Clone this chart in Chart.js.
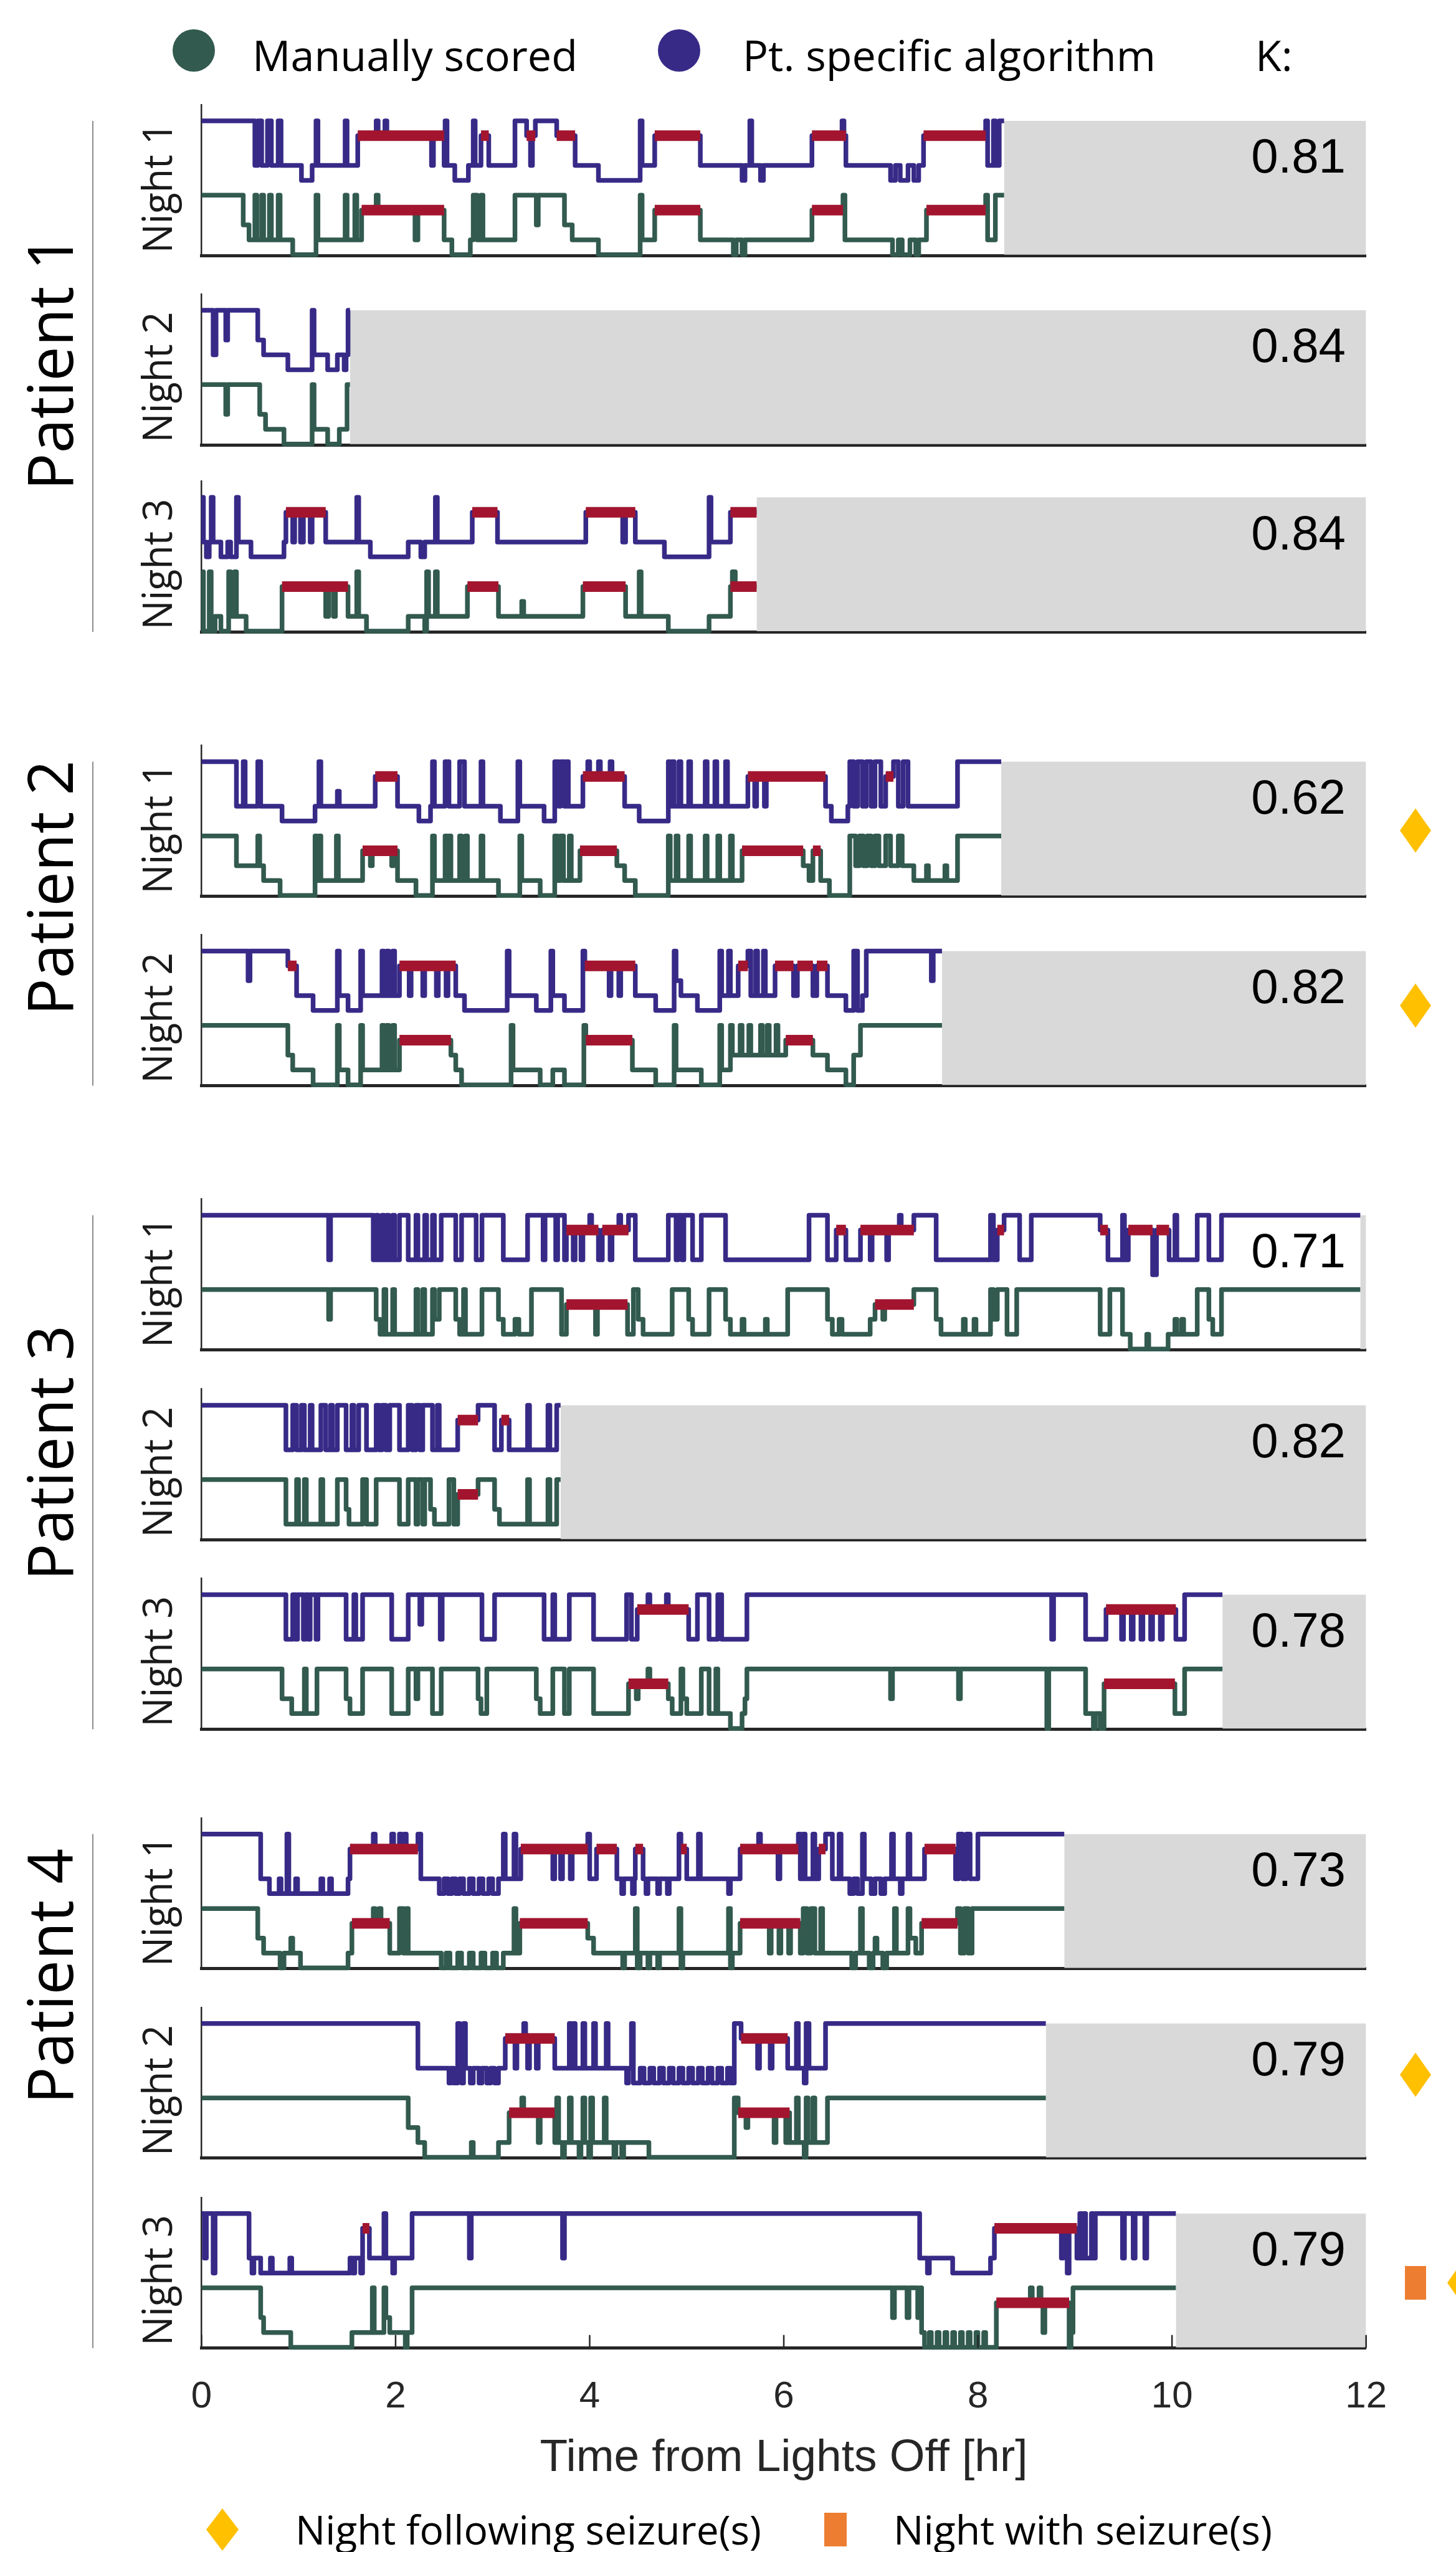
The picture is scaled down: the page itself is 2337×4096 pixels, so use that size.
<!DOCTYPE html>
<html><head><meta charset="utf-8">
<script src="https://cdn.jsdelivr.net/npm/chart.js@4.4.1/dist/chart.umd.min.js"></script>
<style>
html,body{margin:0;padding:0;background:#fff;}
body{width:2337px;height:4096px;position:relative;overflow:hidden;}
canvas{position:absolute;}
#ov{position:absolute;left:0;top:0;z-index:10;pointer-events:none;}
</style></head><body>
<svg id="ov" width="2337" height="4096" xmlns="http://www.w3.org/2000/svg"></svg>
<script>
// ===== DATA =====  stage codes: 4=Wake, 3=REM, 2=N1, 1=N2, 0=N3 ; each pair = [hour the stage starts, stage]
const p1n1Alg = [[0,4],[0.55,1],[0.58,4],[0.62,1],[0.68,4],[0.72,1],[0.79,4],[0.82,1],[1.03,0],[1.14,1],[1.18,4],[1.20,1],[1.48,4],[1.50,1],[1.61,3],[1.80,4],[1.82,3],[1.89,4],[1.91,3],[2.37,1],[2.39,3],[2.50,1],[2.51,4],[2.53,1],[2.61,0],[2.75,1],[2.80,4],[2.82,1],[2.88,3],[2.96,1],[3.23,4],[3.35,3],[3.39,1],[3.41,3],[3.44,4],[3.66,3],[3.85,1],[4.09,0],[4.52,4],[4.54,1],[4.67,3],[5.14,1],[5.57,0],[5.60,1],[5.65,4],[5.67,1],[5.76,0],[5.79,1],[6.29,3],[6.60,4],[6.62,3],[6.64,1],[7.10,0],[7.15,1],[7.20,0],[7.28,1],[7.34,0],[7.39,1],[7.44,3],[8.08,4],[8.10,1],[8.16,4],[8.18,1],[8.22,4],[8.27,4]];
const p1n1Man = [[0,4],[0.43,2],[0.49,1],[0.55,4],[0.57,1],[0.62,4],[0.64,1],[0.70,4],[0.72,1],[0.79,4],[0.81,1],[0.94,0],[1.18,4],[1.20,1],[1.48,4],[1.50,1],[1.58,4],[1.60,1],[1.65,3],[1.80,4],[1.82,3],[2.20,1],[2.23,3],[2.50,1],[2.58,0],[2.77,1],[2.80,4],[2.84,1],[2.88,4],[2.90,1],[3.23,4],[3.45,2],[3.47,4],[3.74,2],[3.82,1],[4.09,0],[4.52,4],[4.54,1],[4.67,3],[5.14,1],[5.48,0],[5.51,1],[5.57,0],[5.60,1],[6.29,3],[6.61,4],[6.63,1],[7.12,0],[7.18,1],[7.22,0],[7.30,1],[7.36,0],[7.39,1],[7.47,3],[8.08,4],[8.10,1],[8.18,4],[8.27,4]];
const p1n2Alg = [[0,4],[0.12,1],[0.15,4],[0.25,2],[0.27,4],[0.58,2],[0.64,1],[0.89,0],[1.14,4],[1.16,1],[1.30,0],[1.40,1],[1.47,0],[1.49,1],[1.51,4],[1.53,4]];
const p1n2Man = [[0,4],[0.25,2],[0.27,4],[0.60,2],[0.66,1],[0.85,0],[1.14,4],[1.16,1],[1.30,0],[1.42,1],[1.50,4],[1.53,4]];
const p1n3Alg = [[0,4],[0.02,1],[0.05,0],[0.08,1],[0.10,4],[0.12,1],[0.20,0],[0.27,1],[0.30,0],[0.36,4],[0.38,1],[0.51,0],[0.85,1],[0.87,3],[0.94,1],[0.96,3],[1.02,1],[1.05,3],[1.12,1],[1.14,3],[1.28,1],[1.60,4],[1.62,1],[1.74,0],[2.13,1],[2.26,0],[2.30,1],[2.41,4],[2.43,1],[2.79,3],[3.05,1],[3.96,3],[4.34,1],[4.37,3],[4.47,1],[4.77,0],[5.23,4],[5.25,1],[5.45,3],[5.72,3]];
const p1n3Man = [[0,4],[0.02,0],[0.08,4],[0.10,0],[0.14,1],[0.20,0],[0.28,4],[0.30,1],[0.34,4],[0.36,1],[0.46,0],[0.83,3],[1.28,1],[1.31,3],[1.36,1],[1.38,3],[1.51,1],[1.60,4],[1.62,1],[1.70,0],[2.13,1],[2.30,0],[2.32,4],[2.34,1],[2.41,4],[2.43,1],[2.74,3],[3.06,1],[3.30,2],[3.32,1],[3.93,3],[4.37,1],[4.51,4],[4.53,1],[4.81,0],[5.23,1],[5.45,3],[5.47,4],[5.50,3],[5.72,3]];
const p2n1Alg = [[0,4],[0.36,1],[0.43,4],[0.45,1],[0.58,4],[0.61,1],[0.83,0],[1.17,1],[1.21,4],[1.23,1],[1.40,2],[1.42,1],[1.79,3],[2.02,1],[2.24,0],[2.36,1],[2.38,4],[2.40,1],[2.51,4],[2.55,1],[2.66,4],[2.71,1],[2.88,4],[2.90,1],[3.08,0],[3.26,4],[3.28,1],[3.53,0],[3.64,4],[3.68,1],[3.70,4],[3.74,1],[3.76,4],[3.78,1],[3.93,3],[3.98,4],[4.00,3],[4.09,4],[4.11,3],[4.21,4],[4.23,3],[4.36,1],[4.51,0],[4.81,4],[4.83,1],[4.85,4],[4.87,1],[4.92,4],[4.94,1],[5.02,4],[5.04,1],[5.19,4],[5.21,1],[5.29,4],[5.31,1],[5.40,4],[5.42,1],[5.63,3],[5.70,1],[5.72,3],[5.80,1],[5.82,3],[6.43,1],[6.49,0],[6.66,1],[6.68,4],[6.72,1],[6.76,4],[6.81,1],[6.85,4],[6.90,1],[6.94,4],[7.00,1],[7.05,3],[7.13,4],[7.18,1],[7.23,4],[7.28,1],[7.79,4],[8.24,4]];
const p2n1Man = [[0,4],[0.36,2],[0.58,4],[0.60,2],[0.64,1],[0.81,0],[1.17,4],[1.19,1],[1.21,4],[1.23,1],[1.39,4],[1.41,1],[1.66,3],[1.74,2],[1.76,3],[1.96,2],[1.98,3],[2.02,1],[2.21,0],[2.38,4],[2.40,1],[2.51,4],[2.53,1],[2.55,4],[2.57,1],[2.66,4],[2.68,1],[2.72,4],[2.74,1],[2.88,4],[2.90,1],[3.06,0],[3.28,4],[3.30,1],[3.49,0],[3.64,4],[3.67,1],[3.70,4],[3.73,1],[3.79,4],[3.81,1],[3.90,3],[4.28,2],[4.36,1],[4.47,0],[4.81,4],[4.83,1],[4.89,4],[4.91,1],[5.02,4],[5.04,1],[5.19,4],[5.21,1],[5.32,4],[5.34,1],[5.45,4],[5.47,1],[5.57,3],[6.20,2],[6.26,1],[6.30,3],[6.38,1],[6.47,0],[6.68,4],[6.74,2],[6.78,4],[6.82,2],[6.86,4],[6.90,2],[6.94,4],[6.98,2],[7.05,4],[7.10,2],[7.18,4],[7.22,2],[7.34,1],[7.47,2],[7.49,1],[7.66,2],[7.68,1],[7.79,4],[8.24,4]];
const p2n2Alg = [[0,4],[0.48,2],[0.50,4],[0.89,3],[0.98,1],[1.15,0],[1.40,4],[1.42,1],[1.51,0],[1.64,4],[1.66,1],[1.86,4],[1.88,1],[1.91,4],[1.93,1],[1.97,4],[1.99,1],[2.04,3],[2.14,1],[2.16,3],[2.28,1],[2.30,3],[2.42,1],[2.44,3],[2.52,1],[2.54,3],[2.62,1],[2.71,0],[3.15,4],[3.17,1],[3.45,0],[3.60,4],[3.62,1],[3.74,0],[3.93,4],[3.95,3],[4.20,1],[4.22,3],[4.30,1],[4.32,3],[4.47,1],[4.68,0],[4.87,4],[4.89,2],[4.94,1],[5.11,0],[5.34,4],[5.36,1],[5.43,4],[5.45,1],[5.53,3],[5.63,4],[5.66,1],[5.71,4],[5.73,1],[5.79,4],[5.81,1],[5.91,3],[6.10,1],[6.14,3],[6.30,1],[6.34,3],[6.45,1],[6.64,0],[6.72,4],[6.76,0],[6.81,1],[6.85,4],[7.52,2],[7.54,4],[7.63,4]];
const p2n2Man = [[0,4],[0.89,2],[0.94,1],[1.15,0],[1.40,4],[1.42,1],[1.51,0],[1.64,4],[1.66,1],[1.86,4],[1.88,1],[1.91,4],[1.93,1],[1.97,4],[1.99,1],[2.04,3],[2.57,2],[2.62,1],[2.68,0],[3.19,4],[3.21,1],[3.49,0],[3.62,1],[3.74,0],[3.94,4],[3.96,3],[4.44,1],[4.68,0],[4.87,4],[4.89,1],[5.15,0],[5.34,4],[5.36,1],[5.45,4],[5.47,2],[5.55,4],[5.57,2],[5.64,4],[5.66,2],[5.76,4],[5.78,2],[5.83,4],[5.85,2],[5.92,4],[5.94,2],[6.02,3],[6.30,2],[6.45,1],[6.64,0],[6.72,2],[6.79,4],[7.63,4]];
const p3n1Alg = [[0,4],[1.31,1],[1.33,4],[1.77,1],[1.80,4],[1.82,1],[1.86,4],[1.88,1],[1.91,4],[1.93,1],[1.97,4],[1.99,1],[2.04,4],[2.13,1],[2.21,4],[2.23,1],[2.30,4],[2.32,1],[2.38,4],[2.40,1],[2.47,4],[2.62,1],[2.68,4],[2.83,1],[2.89,4],[3.11,1],[3.36,4],[3.52,1],[3.54,4],[3.65,1],[3.67,4],[3.74,1],[3.76,3],[3.83,1],[3.85,3],[3.91,1],[3.93,3],[4.00,4],[4.02,3],[4.09,1],[4.13,3],[4.21,1],[4.23,3],[4.30,4],[4.32,3],[4.40,4],[4.47,1],[4.81,4],[4.89,1],[4.91,4],[4.95,1],[4.97,4],[5.06,1],[5.15,4],[5.40,1],[6.26,4],[6.45,1],[6.54,3],[6.64,1],[6.79,3],[6.89,1],[6.91,3],[7.06,1],[7.08,3],[7.19,4],[7.21,3],[7.34,4],[7.57,1],[8.13,4],[8.16,1],[8.20,3],[8.27,4],[8.43,1],[8.55,4],[9.26,3],[9.34,1],[9.49,4],[9.51,1],[9.55,3],[9.80,0],[9.84,3],[9.97,1],[10.03,4],[10.05,1],[10.26,4],[10.38,1],[10.51,4],[11.94,4]];
const p3n1Man = [[0,4],[1.31,2],[1.33,4],[1.80,2],[1.84,1],[1.88,4],[1.90,1],[1.97,4],[1.99,1],[2.21,4],[2.23,1],[2.28,4],[2.30,1],[2.38,4],[2.40,2],[2.45,4],[2.62,2],[2.66,1],[2.70,4],[2.72,1],[2.89,4],[3.06,2],[3.11,1],[3.23,2],[3.27,1],[3.40,4],[3.71,1],[3.76,3],[4.06,1],[4.08,3],[4.39,1],[4.45,4],[4.50,2],[4.55,1],[4.85,4],[5.02,2],[5.06,1],[5.23,4],[5.40,2],[5.45,1],[5.57,2],[5.59,1],[5.81,2],[5.83,1],[6.04,4],[6.45,2],[6.50,1],[6.57,2],[6.60,1],[6.89,2],[6.94,3],[7.02,2],[7.04,3],[7.34,4],[7.57,2],[7.62,1],[7.85,2],[7.87,1],[7.96,2],[7.98,1],[8.13,4],[8.16,2],[8.20,4],[8.30,1],[8.40,4],[9.26,1],[9.36,4],[9.49,1],[9.57,0],[9.74,1],[9.76,0],[9.96,1],[10.03,2],[10.05,1],[10.10,2],[10.12,1],[10.26,4],[10.38,2],[10.42,1],[10.51,4],[11.94,4]];
const p3n2Alg = [[0,4],[0.87,1],[0.94,4],[0.98,1],[1.03,4],[1.06,1],[1.12,4],[1.14,1],[1.23,4],[1.28,1],[1.33,4],[1.35,1],[1.40,4],[1.49,1],[1.55,4],[1.57,1],[1.62,4],[1.70,1],[1.80,4],[1.83,1],[1.86,4],[1.90,1],[1.94,4],[2.04,1],[2.13,4],[2.17,1],[2.21,4],[2.25,1],[2.28,4],[2.38,1],[2.43,4],[2.45,1],[2.64,3],[2.85,4],[3.02,1],[3.09,3],[3.17,1],[3.36,4],[3.38,1],[3.57,4],[3.59,1],[3.66,4],[3.70,4]];
const p3n2Man = [[0,4],[0.87,1],[0.98,4],[1.00,1],[1.06,4],[1.08,1],[1.23,4],[1.25,1],[1.40,4],[1.49,2],[1.52,1],[1.66,4],[1.70,1],[1.80,4],[2.04,1],[2.13,4],[2.21,1],[2.23,4],[2.28,1],[2.30,4],[2.36,2],[2.40,1],[2.55,4],[2.60,1],[2.64,3],[2.85,4],[3.02,2],[3.07,1],[3.36,4],[3.38,1],[3.57,4],[3.59,1],[3.66,4],[3.70,4]];
const p3n3Alg = [[0,4],[0.87,1],[0.94,4],[0.97,1],[0.99,4],[1.05,1],[1.07,4],[1.10,1],[1.12,4],[1.18,1],[1.20,4],[1.49,1],[1.57,4],[1.59,1],[1.66,4],[1.96,1],[2.13,4],[2.25,2],[2.27,4],[2.46,1],[2.48,4],[2.89,1],[3.02,4],[3.53,1],[3.62,4],[3.64,1],[3.79,4],[4.04,1],[4.38,4],[4.43,1],[4.49,3],[4.60,4],[4.62,3],[4.79,4],[4.81,3],[5.02,1],[5.11,4],[5.23,1],[5.32,4],[5.36,1],[5.62,4],[8.76,1],[8.78,4],[9.11,1],[9.32,3],[9.48,1],[9.50,3],[9.58,1],[9.60,3],[9.68,1],[9.70,3],[9.78,1],[9.80,3],[9.88,1],[9.90,3],[10.04,1],[10.13,4],[10.52,4]];
const p3n3Man = [[0,4],[0.83,2],[0.93,1],[1.06,4],[1.08,1],[1.19,4],[1.49,2],[1.53,1],[1.66,4],[1.96,1],[2.13,4],[2.21,2],[2.23,4],[2.38,1],[2.47,4],[2.85,2],[2.88,1],[2.94,4],[3.45,2],[3.49,1],[3.62,4],[3.74,1],[3.79,4],[4.04,1],[4.40,3],[4.48,2],[4.50,3],[4.60,4],[4.62,3],[4.81,2],[4.85,1],[4.94,4],[4.96,2],[5.00,1],[5.15,4],[5.23,1],[5.30,4],[5.32,1],[5.45,0],[5.57,1],[5.60,2],[5.62,4],[7.10,2],[7.12,4],[7.80,2],[7.82,4],[8.71,0],[8.73,4],[9.11,1],[9.19,0],[9.21,1],[9.26,0],[9.30,3],[10.03,1],[10.13,4],[10.52,4]];
const p4n1Alg = [[0,4],[0.61,1],[0.70,0],[0.80,1],[0.82,0],[0.88,4],[0.90,0],[0.97,1],[0.99,0],[1.23,1],[1.25,0],[1.32,1],[1.34,0],[1.51,1],[1.53,3],[1.77,4],[1.79,3],[1.96,4],[1.98,3],[2.04,4],[2.06,3],[2.09,4],[2.11,3],[2.23,4],[2.26,1],[2.45,0],[2.50,1],[2.54,0],[2.58,1],[2.62,0],[2.66,1],[2.70,0],[2.76,1],[2.80,0],[2.86,1],[2.90,0],[2.96,1],[3.00,0],[3.06,1],[3.11,4],[3.13,1],[3.22,4],[3.24,1],[3.29,3],[3.62,1],[3.64,3],[3.70,1],[3.72,3],[3.80,1],[3.82,3],[3.98,4],[4.00,1],[4.07,3],[4.28,1],[4.33,0],[4.35,1],[4.44,0],[4.46,1],[4.47,3],[4.55,1],[4.58,0],[4.60,1],[4.70,0],[4.72,1],[4.80,0],[4.82,1],[4.92,4],[4.94,3],[5.00,1],[5.12,4],[5.14,1],[5.43,0],[5.45,1],[5.55,3],[5.74,4],[5.76,3],[5.94,1],[5.96,3],[6.15,4],[6.17,1],[6.20,4],[6.22,1],[6.30,4],[6.32,1],[6.36,3],[6.43,4],[6.50,1],[6.57,4],[6.59,1],[6.68,0],[6.72,1],[6.76,0],[6.81,4],[6.83,1],[6.90,0],[6.94,1],[7.00,0],[7.04,1],[7.11,4],[7.13,1],[7.20,0],[7.22,1],[7.28,4],[7.30,1],[7.45,3],[7.77,1],[7.80,4],[7.84,1],[7.88,4],[7.92,1],[8.00,4],[8.89,4]];
const p4n1Man = [[0,4],[0.58,2],[0.64,1],[0.81,0],[0.85,1],[0.92,2],[0.94,1],[1.02,0],[1.51,1],[1.55,3],[1.77,4],[1.79,3],[1.83,4],[1.85,3],[1.94,1],[2.04,4],[2.08,1],[2.11,4],[2.13,1],[2.47,0],[2.52,1],[2.56,0],[2.64,1],[2.68,0],[2.76,1],[2.80,0],[2.88,1],[2.92,0],[3.00,1],[3.04,0],[3.11,1],[3.22,4],[3.24,1],[3.28,3],[3.98,2],[4.04,1],[4.34,0],[4.36,1],[4.47,4],[4.49,0],[4.52,1],[4.60,0],[4.62,1],[4.70,0],[4.72,1],[4.92,4],[4.94,0],[4.96,1],[5.43,4],[5.45,0],[5.47,1],[5.55,3],[5.85,1],[5.87,3],[5.95,1],[5.97,3],[6.05,1],[6.07,3],[6.17,1],[6.20,4],[6.24,1],[6.28,4],[6.32,1],[6.38,4],[6.40,1],[6.70,0],[6.74,1],[6.79,4],[6.81,1],[6.88,0],[6.92,1],[6.94,2],[6.96,1],[7.02,0],[7.06,1],[7.14,4],[7.16,1],[7.28,4],[7.30,2],[7.36,1],[7.42,3],[7.79,4],[7.82,1],[7.86,4],[7.90,1],[7.94,4],[8.89,4]];
const p4n2Alg = [[0,4],[2.23,1],[2.55,0],[2.57,1],[2.60,0],[2.64,4],[2.66,1],[2.68,0],[2.70,4],[2.72,1],[2.77,0],[2.80,1],[2.86,0],[2.89,1],[2.94,0],[2.98,1],[3.02,0],[3.06,1],[3.13,3],[3.23,1],[3.25,3],[3.32,4],[3.34,3],[3.36,1],[3.38,3],[3.45,1],[3.47,3],[3.64,1],[3.79,4],[3.81,1],[3.83,4],[3.85,1],[3.93,4],[3.95,1],[4.04,4],[4.06,1],[4.17,4],[4.19,1],[4.38,0],[4.40,1],[4.43,4],[4.45,0],[4.52,1],[4.56,0],[4.62,1],[4.66,0],[4.72,1],[4.76,0],[4.82,1],[4.86,0],[4.92,1],[4.96,0],[5.02,1],[5.06,0],[5.12,1],[5.16,0],[5.22,1],[5.26,0],[5.32,1],[5.36,0],[5.42,1],[5.45,0],[5.49,4],[5.56,3],[5.73,1],[5.75,3],[5.86,1],[5.88,3],[6.04,1],[6.13,4],[6.15,1],[6.21,0],[6.23,4],[6.26,1],[6.43,4],[8.70,4]];
const p4n2Man = [[0,4],[2.13,2],[2.23,1],[2.30,0],[2.78,1],[2.80,0],[3.06,1],[3.17,3],[3.30,4],[3.32,3],[3.47,1],[3.49,3],[3.64,1],[3.66,4],[3.68,1],[3.72,0],[3.74,1],[3.79,4],[3.81,1],[3.89,0],[3.91,1],[3.93,4],[3.95,1],[3.99,0],[4.01,4],[4.03,1],[4.15,4],[4.17,1],[4.25,0],[4.27,1],[4.33,0],[4.35,1],[4.61,0],[5.49,4],[5.53,3],[5.61,2],[5.63,3],[5.90,1],[5.92,3],[6.02,1],[6.04,3],[6.06,1],[6.13,4],[6.15,1],[6.21,0],[6.23,4],[6.25,1],[6.30,4],[6.32,1],[6.45,4],[8.70,4]];
const p4n3Alg = [[0,4],[0.03,1],[0.05,4],[0.12,0],[0.14,4],[0.49,1],[0.52,0],[0.54,1],[0.61,0],[0.71,1],[0.73,0],[0.91,1],[0.93,0],[1.53,1],[1.56,0],[1.58,1],[1.64,0],[1.66,3],[1.73,1],[1.88,4],[1.90,1],[1.97,0],[1.99,1],[2.17,4],[2.76,1],[2.78,4],[3.72,1],[3.74,4],[7.40,1],[7.48,0],[7.50,1],[7.74,0],[8.13,1],[8.17,3],[8.86,1],[8.88,3],[8.92,0],[8.94,3],[9.02,1],[9.05,4],[9.07,1],[9.09,4],[9.11,1],[9.17,4],[9.19,1],[9.21,4],[9.49,1],[9.51,4],[9.60,1],[9.62,4],[9.72,1],[9.74,4],[10.04,4]];
const p4n3Man = [[0,4],[0.61,2],[0.64,1],[0.92,0],[1.55,1],[1.76,4],[1.78,1],[1.88,4],[1.90,2],[1.94,1],[2.10,0],[2.12,1],[2.17,4],[7.12,2],[7.14,4],[7.27,2],[7.29,4],[7.38,2],[7.40,4],[7.42,1],[7.45,0],[7.50,1],[7.52,0],[7.58,1],[7.60,0],[7.66,1],[7.68,0],[7.74,1],[7.76,0],[7.82,1],[7.84,0],[7.90,1],[7.92,0],[7.98,1],[8.00,0],[8.06,1],[8.08,0],[8.19,3],[8.54,4],[8.56,3],[8.63,4],[8.65,3],[8.67,1],[8.69,3],[8.94,0],[8.96,1],[8.98,4],[10.04,4]];

const kappa = [0.81, 0.84, 0.84, 0.62, 0.82, 0.71, 0.82, 0.78, 0.73, 0.79, 0.79];
const recordingEnd = [8.27, 1.53, 5.72, 8.24, 7.63, 11.94, 3.70, 10.52, 8.89, 8.70, 10.04];
const nightLabels = ['Night 1','Night 2','Night 3','Night 1','Night 2','Night 1','Night 2','Night 3','Night 1','Night 2','Night 3'];
const patientLabels = ['Patient 1','Patient 2','Patient 3','Patient 4'];
const patientNights = [[0,2],[3,4],[5,7],[8,10]];
const seizureMarks = [[],[],[],['following'],['following'],[],[],[],[],['following'],['with','following']];
const xTicks = [0, 2, 4, 6, 8, 10, 12];
const seriesNames = ['Manually scored', 'Pt. specific algorithm'];
const kappaTitle = 'K:';
const xTitle = 'Time from Lights Off [hr]';
const markerLegend = ['Night following seizure(s)', 'Night with seizure(s)'];

// ===== STYLE / LAYOUT =====
const BLUE = '#372a87', GREEN = '#325a4f', RED = '#a3152f', GRAY = '#d9d9d9', AX = '#262626';
const YELLOW = '#ffc000', ORANGE = '#ed7d31';
const ALG_OFF = 5, MAN_OFF = 0;
const X0 = 323.4, X12 = 2192.7;
const CL = 263, CR = 2253;
const tops = [168.2, 472.2, 772.5, 1196.6, 1500.6, 1924.7, 2229.6, 2533.6, 2918.0, 3222.0, 3526.9];
const PH = 241.8, YMIN = -0.05, YMAX = 10.08;
const AXH = 230;
const LINE_W = 7.5, REM_W = 17, REM_MERGE = 0.035;
const markerY = {3: 1333, 4: 1614, 9: 3330, 10: 3664};
const patientLabelY = [582, 1425, 2332, 3172];
const nights = [
  [p1n1Alg, p1n1Man],[p1n2Alg, p1n2Man],[p1n3Alg, p1n3Man],
  [p2n1Alg, p2n1Man],[p2n2Alg, p2n2Man],
  [p3n1Alg, p3n1Man],[p3n2Alg, p3n2Man],[p3n3Alg, p3n3Man],
  [p4n1Alg, p4n1Man],[p4n2Alg, p4n2Man],[p4n3Alg, p4n3Man]
];
function yPix(i, v){ return tops[i] + (YMAX - v) / (YMAX - YMIN) * PH; }

function stepPoints(series, off){
  const pts = [];
  series.forEach(([t, s], i) => {
    if (i > 0) pts.push({x: t, y: series[i-1][1] + off});
    pts.push({x: t, y: s + off});
  });
  return pts;
}
// REM runs (drawn as thick bars); runs separated by a very brief excursion are drawn as one bar
function remPoints(series, off){
  const runs = [];
  for (let i = 0; i < series.length - 1; i++) {
    if (series[i][1] === 3) {
      const a = series[i][0], b = series[i+1][0];
      const last = runs[runs.length - 1];
      if (last && a - last[1] < REM_MERGE) last[1] = b; else runs.push([a, b]);
    }
  }
  const pts = [];
  runs.forEach(([a, b]) => pts.push({x: a, y: 3 + off}, {x: b, y: 3 + off}, {x: b, y: null}));
  return pts;
}

const inwardTicks = {
  id: 'inwardTicks',
  afterDatasetsDraw(chart) {
    const xs = chart.scales.x, ca = chart.chartArea, ctx = chart.ctx;
    ctx.save(); ctx.strokeStyle = AX; ctx.lineWidth = 2.5;
    xTicks.forEach(v => {
      const px = xs.getPixelForValue(v);
      ctx.beginPath(); ctx.moveTo(px, ca.bottom); ctx.lineTo(px, ca.bottom - 21); ctx.stroke();
    });
    ctx.restore();
  }
};

nights.forEach(([alg, man], i) => {
  const isLast = i === nights.length - 1;
  const top = tops[i];
  const cTop = Math.floor(top) - 24;
  const padTop = top - cTop;
  const axH = isLast ? AXH : 0;
  const cH = Math.ceil(padTop + PH + axH + (isLast ? 2 : 24));
  const padBottom = cH - padTop - PH - axH;
  const cW = CR - CL;
  const cv = document.createElement('canvas');
  cv.width = cW; cv.height = cH;
  cv.style.left = CL + 'px'; cv.style.top = cTop + 'px';
  cv.style.width = cW + 'px'; cv.style.height = cH + 'px';
  document.body.appendChild(cv);
  new Chart(cv.getContext('2d'), {
    type: 'line',
    data: { datasets: [
      {data: remPoints(alg, ALG_OFF), borderColor: RED, borderWidth: REM_W, borderCapStyle: 'butt', pointRadius: 0, spanGaps: false, order: 0, clip: false},
      {data: remPoints(man, MAN_OFF), borderColor: RED, borderWidth: REM_W, borderCapStyle: 'butt', pointRadius: 0, spanGaps: false, order: 0, clip: false},
      {data: stepPoints(alg, ALG_OFF), borderColor: BLUE, borderWidth: LINE_W, borderJoinStyle: 'round', pointRadius: 0, order: 1, clip: false},
      {data: stepPoints(man, MAN_OFF), borderColor: GREEN, borderWidth: LINE_W, borderJoinStyle: 'round', pointRadius: 0, order: 2, clip: false},
      {data: [{x: recordingEnd[i], y: 4 + ALG_OFF}, {x: 12, y: 4 + ALG_OFF}], borderWidth: 0, borderColor: 'rgba(0,0,0,0)', backgroundColor: GRAY, fill: {value: 0}, pointRadius: 0, order: 3}
    ]},
    options: {
      responsive: false, animation: false, devicePixelRatio: 1, events: [],
      layout: {padding: {left: X0 - CL, right: CR - X12, top: padTop, bottom: padBottom}},
      plugins: {legend: {display: false}, tooltip: {enabled: false}},
      scales: {
        x: {
          type: 'linear', min: 0, max: 12,
          grid: {display: false, drawTicks: false},
          border: {display: true, color: AX, width: 5},
          afterBuildTicks: s => { s.ticks = xTicks.map(v => ({value: v})); },
          afterFit: s => { s.height = axH; s.paddingLeft = 0; s.paddingRight = 0; },
          ticks: {display: isLast, autoSkip: false, maxRotation: 0, padding: 43, color: AX,
                  font: {family: 'Liberation Sans', size: 60}},
          title: {display: isLast, text: xTitle, color: AX,
                  font: {family: 'Liberation Sans', size: 73}, padding: {top: 0, bottom: 9}}
        },
        y: {
          type: 'linear', min: YMIN, max: YMAX,
          grid: {display: false, drawTicks: false},
          ticks: {display: false},
          border: {display: true, color: AX, width: 2.5},
          afterFit: s => { s.width = 0; }
        }
      }
    },
    plugins: isLast ? [inwardTicks] : []
  });
});

// ===== TEXT & MARKERS (SVG overlay) =====
const svg = document.getElementById('ov');
function el(tag, attrs, text){
  const e = document.createElementNS('http://www.w3.org/2000/svg', tag);
  for (const k in attrs) e.setAttribute(k, attrs[k]);
  if (text != null) e.textContent = text;
  svg.appendChild(e); return e;
}
function diamond(cx, cy, w, h){
  el('polygon', {points: `${cx},${cy-h/2} ${cx+w/2},${cy} ${cx},${cy+h/2} ${cx-w/2},${cy}`, fill: YELLOW});
}
const OS = "'Open Sans', 'Noto Sans', sans-serif";
const LS = "'Liberation Sans', Arial, sans-serif";

// top legend
el('circle', {cx: 311, cy: 81, r: 34, fill: GREEN});
el('text', {x: 405, y: 113.6, 'font-family': OS, 'font-size': 68, fill: '#000', textLength: 522, lengthAdjust: 'spacingAndGlyphs'}, seriesNames[0]);
el('circle', {cx: 1090, cy: 81, r: 34, fill: BLUE});
el('text', {x: 1192, y: 113.6, 'font-family': OS, 'font-size': 68, fill: '#000', textLength: 663, lengthAdjust: 'spacingAndGlyphs'}, seriesNames[1]);
el('text', {x: 2015, y: 113.6, 'font-family': OS, 'font-size': 68, fill: '#000'}, kappaTitle);

// night labels, kappa values, seizure markers
nights.forEach((n, i) => {
  const cy = yPix(i, 4.5);
  el('text', {transform: `translate(276,${cy}) rotate(-90)`, 'text-anchor': 'middle', 'font-family': OS, 'font-size': 66, fill: '#1a1a1a', textLength: 210, lengthAdjust: 'spacingAndGlyphs'}, nightLabels[i]);
  el('text', {x: 2160, y: tops[i] + 109, 'text-anchor': 'end', 'font-family': LS, 'font-size': 78, fill: '#000'}, kappa[i].toFixed(2));
  const marks = seizureMarks[i];
  if (marks.length) {
    const my = markerY[i];
    let mx = 2272;
    marks.forEach(m => {
      if (m === 'with') { el('rect', {x: mx - 17, y: my - 27, width: 34, height: 54, fill: ORANGE}); mx += 76; }
      else { diamond(mx, my, 50, 71); mx += 76; }
    });
  }
});

// patient labels and bracket lines
patientLabels.forEach((p, k) => {
  const [a, b] = patientNights[k];
  const y1 = yPix(a, 9), y2 = tops[b] + PH;
  el('line', {x1: 149, x2: 149, y1: y1, y2: y2, stroke: '#8c8c8c', 'stroke-width': 2});
  el('text', {transform: `translate(117,${patientLabelY[k]}) rotate(-90)`, 'text-anchor': 'middle', 'font-family': OS, 'font-size': 100, fill: '#000', textLength: 410, lengthAdjust: 'spacingAndGlyphs'}, p);
});

// bottom legend
diamond(357, 4060, 52, 68);
el('text', {x: 474, y: 4084, 'font-family': OS, 'font-size': 64, fill: '#000', textLength: 748, lengthAdjust: 'spacingAndGlyphs'}, markerLegend[0]);
el('rect', {x: 1323, y: 4033, width: 36, height: 54, fill: ORANGE});
el('text', {x: 1434, y: 4084, 'font-family': OS, 'font-size': 64, fill: '#000', textLength: 608, lengthAdjust: 'spacingAndGlyphs'}, markerLegend[1]);
</script>
</body></html>
